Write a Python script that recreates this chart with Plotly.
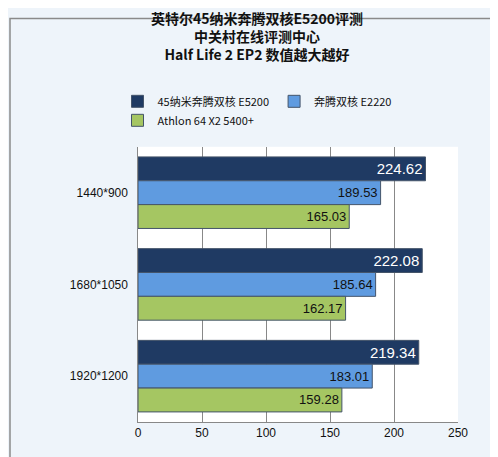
import plotly.graph_objects as go

categories = ['1440*900', '1680*1050', '1920*1200']
series_names = ['45纳米奔腾双核 E5200', '奔腾双核 E2220', 'Athlon 64 X2 5400+']
e5200 = [224.62, 222.08, 219.34]
e2220 = [189.53, 185.64, 183.01]
athlon = [165.03, 162.17, 159.28]

colors = ['#1F3A63', '#5F9BE0', '#A5C662']
text_colors = ['white', '#111111', '#111111']
text_sizes = [15, 13, 13]

fig = go.Figure()
for name, vals, color, tc, ts in zip(series_names, [e5200, e2220, athlon],
                                     colors, text_colors, text_sizes):
    fig.add_trace(go.Bar(
        y=categories, x=vals, name=name, orientation='h',
        marker=dict(color=color, line=dict(color='#44546A', width=1)),
        text=[f'{v:.2f}' for v in vals], textposition='inside', insidetextanchor='end',
        textfont=dict(color=tc, size=ts, family='Liberation Sans'),
    ))

W, H = 498, 457
ml, mr, mt, mb = 130, 48, 133, 43
dw, dh = W - ml - mr, H - mt - mb

fig.update_layout(
    width=W, height=H,
    barmode='group', bargap=0.22, bargroupgap=0.0,
    title=dict(text='<b>英特尔45纳米奔腾双核E5200评测<br>中关村在线评测中心<br>Half Life 2 EP2 数值越大越好</b>',
               x=0.5, y=0.965, xanchor='center', yanchor='top',
               font=dict(size=14, color='#111111', family='Noto Sans CJK SC')),
    legend=dict(orientation='h', x=0.5, xanchor='center', xref='container',
                y=0.775, yref='container', yanchor='middle',
                font=dict(size=11, color='#111111'), itemwidth=30,
                entrywidth=0, bgcolor='rgba(0,0,0,0)'),
    paper_bgcolor='#EEF4FA', plot_bgcolor='white',
    margin=dict(l=ml, r=mr, t=mt, b=mb),
    font=dict(family='Noto Sans CJK SC', size=12, color='#111111'),
    xaxis=dict(range=[0, 250], dtick=50, showgrid=True, gridcolor='#888888', gridwidth=1,
               zeroline=False, ticks='', showline=True, linecolor='#888888',
               tickfont=dict(size=12, family='Liberation Sans')),
    yaxis=dict(autorange='reversed', ticks='', showline=True, linecolor='#888888',
               tickfont=dict(size=12, family='Liberation Sans'), ticksuffix='  '),
    showlegend=True,
)
fig.add_shape(type='rect', xref='paper', yref='paper',
              x0=(-ml + 2) / dw, x1=(dw + mr - 4) / dw,
              y0=(-mb + 4) / dh, y1=(dh + mt - 2) / dh,
              line=dict(color='#8A8A8A', width=1.5), fillcolor='rgba(0,0,0,0)')
fig.write_html('out.html')
